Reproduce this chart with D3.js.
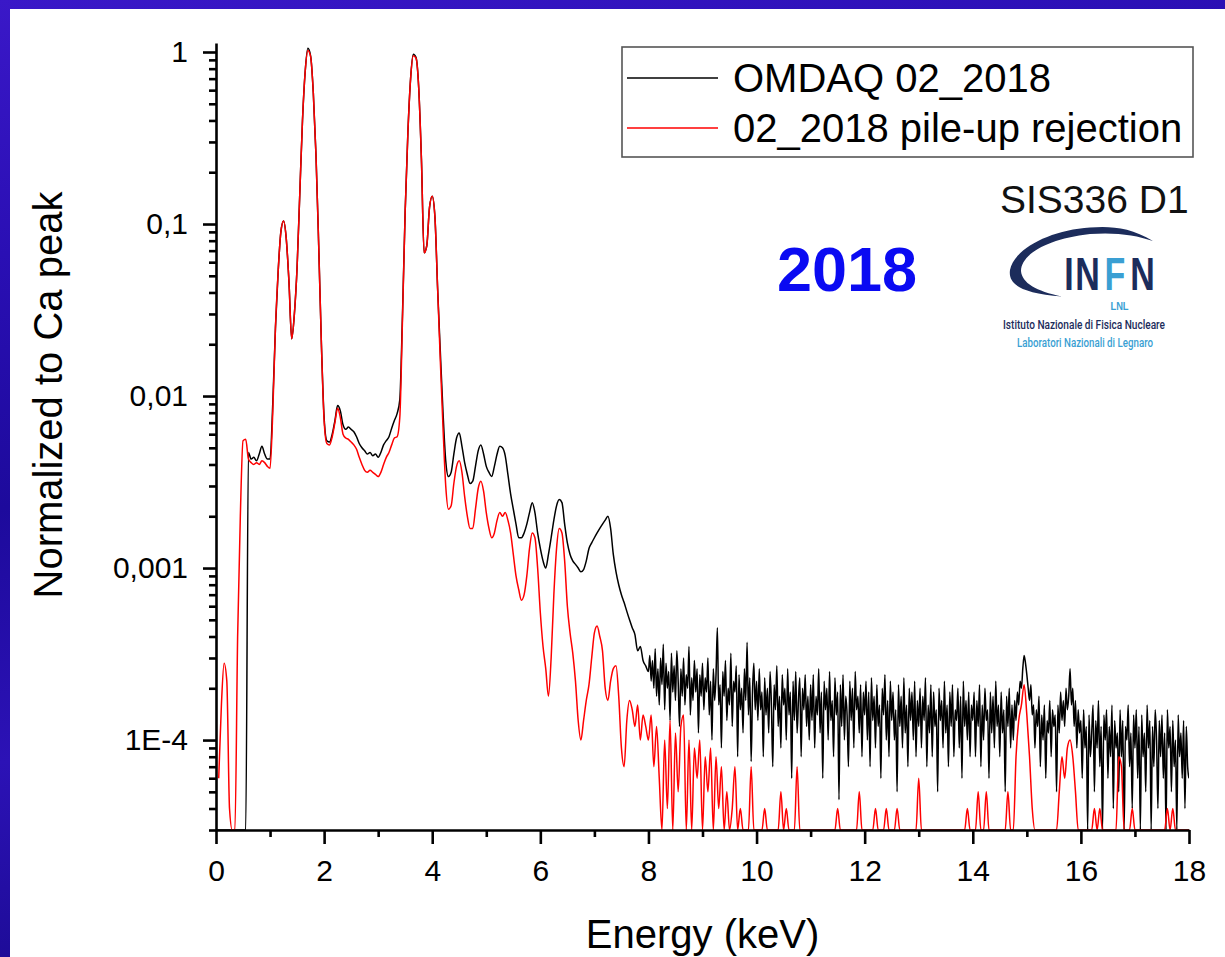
<!DOCTYPE html>
<html>
<head>
<meta charset="utf-8">
<script src="https://cdn.jsdelivr.net/npm/d3@7"></script>
<style>
  html, body { margin: 0; padding: 0; background: #2a10b8; }
  svg { display: block; }
  text { font-family: "Liberation Sans", Arial, Helvetica, sans-serif; }
</style>
</head>
<body>
<svg id="chart" width="1225" height="957"></svg>
<script>
// ---- data -------------------------------------------------------------
// Spectra normalized to the Ca K-alpha peak.
// OMDAQ: 0.05 keV channels up to 7.95 keV, then 0.025 keV channels 8–18 keV.
// Pile-up rejection: 0.05 keV channels over 0–18 keV. One row per keV.

const omdaqLowStep = 0.05;
const omdaqLow = [
  0,0,0,0,0,0,0,0,0,0,0,0,0.0047,0.0043,0.0044,0.0042,0.0046,0.0051,0.0046,0.0043,            // 0 keV
  0.0043,0.009,0.025,0.053,0.09,0.104,0.082,0.046,0.0215,0.03,0.056,0.15,0.4,0.77,1.05,0.95,0.58,0.25,0.075,0.02, // 1
  0.0075,0.0055,0.0054,0.006,0.0072,0.0088,0.0082,0.0068,0.0064,0.0066,0.0064,0.0062,0.0058,0.0053,0.005,0.0048,0.0046,0.0047,0.0045,0.0046, // 2
  0.0044,0.0047,0.0052,0.0055,0.0058,0.0065,0.0072,0.0079,0.0095,0.03,0.12,0.34,0.7,0.97,0.93,0.62,0.24,0.068,0.075,0.125, // 3
  0.145,0.11,0.042,0.018,0.008,0.0042,0.0034,0.0036,0.0046,0.0057,0.0061,0.0051,0.0041,0.0035,0.0031,0.0032,0.0039,0.0048,0.0052,0.0046, // 4
  0.0039,0.0036,0.0034,0.0039,0.0046,0.0051,0.005,0.0045,0.0035,0.0027,0.0022,0.0018,0.0015,0.0015,0.0016,0.0018,0.0021,0.0024,0.0021,0.0016, // 5
  0.0013,0.0011,0.001,0.0012,0.0015,0.0019,0.0023,0.0025,0.0024,0.0018,0.0014,0.0012,0.0011,0.00105,0.001,0.00095,0.00098,0.0011,0.0013,0.0014, // 6
  0.0015,0.0016,0.0017,0.0018,0.0019,0.002,0.0017,0.0012,0.00095,0.0008,0.0007,0.00063,0.00056,0.0005,0.00045,0.00041,0.00033,0.00035,0.00029,0.00027  // 7
];

const omdaqTailStart = 8, omdaqTailStep = 0.025;
const omdaqTail = [
  2.5e-4,3.1e-4,2.2e-4,2.9e-4,2.0e-4,3.4e-4,1.8e-4,2.6e-4,1.6e-4,3.0e-4,2.1e-4,3.6e-4,1.5e-4,2.8e-4,2.0e-4,2.5e-4,1.3e-4,3.2e-4,1.9e-4,2.7e-4,
  1.7e-4,3.3e-4,2.2e-4,1.2e-4,2.6e-4,1.8e-4,3.0e-4,1.6e-4,2.4e-4,2.0e-4,3.5e-4,1.4e-4,2.3e-4,1.7e-4,2.9e-4,1.9e-4,2.6e-4,1.1e-4,2.4e-4,1.8e-4, // 8 keV
  2.8e-4,1.5e-4,2.3e-4,1.9e-4,3.0e-4,1.4e-4,2.2e-4,1.0e-4,2.6e-4,1.7e-4,2.4e-4,4.5e-4,1.6e-4,2.1e-4,0.9e-4,2.5e-4,1.8e-4,2.9e-4,1.3e-4,2.0e-4,
  1.6e-4,3.2e-4,1.2e-4,2.2e-4,1.9e-4,2.7e-4,0.8e-4,2.4e-4,1.5e-4,2.0e-4,1.1e-4,2.6e-4,1.7e-4,3.7e-4,1.4e-4,2.3e-4,0.75e-4,1.9e-4,2.8e-4,1.5e-4, // 9
  2.2e-4,1.3e-4,2.6e-4,1.5e-4,1.9e-4,0.8e-4,2.3e-4,1.4e-4,2.0e-4,1.1e-4,2.5e-4,1.6e-4,0.7e-4,2.1e-4,1.5e-4,2.7e-4,1.2e-4,1.8e-4,0.9e-4,2.4e-4,
  1.6e-4,2.0e-4,1.0e-4,2.6e-4,1.4e-4,1.9e-4,0.6e-4,2.2e-4,1.3e-4,2.5e-4,1.1e-4,1.7e-4,2.3e-4,0.8e-4,2.0e-4,1.5e-4,2.4e-4,1.2e-4,1.8e-4,1.0e-4, // 10
  2.1e-4,1.3e-4,2.4e-4,0.9e-4,1.8e-4,1.4e-4,2.6e-4,1.1e-4,1.9e-4,0.6e-4,2.2e-4,1.5e-4,2.0e-4,1.0e-4,2.5e-4,1.3e-4,1.7e-4,0.8e-4,2.3e-4,1.4e-4,
  1.9e-4,0.45e-4,2.1e-4,1.2e-4,2.4e-4,1.0e-4,1.8e-4,1.4e-4,0.7e-4,2.2e-4,1.3e-4,2.0e-4,0.9e-4,2.5e-4,1.5e-4,1.8e-4,1.1e-4,2.1e-4,0.8e-4,1.9e-4, // 11
  1.4e-4,2.2e-4,1.0e-4,1.9e-4,0.7e-4,2.3e-4,1.3e-4,1.8e-4,0.9e-4,2.1e-4,1.2e-4,1.6e-4,0.6e-4,2.0e-4,1.4e-4,2.4e-4,1.0e-4,1.7e-4,0.8e-4,2.2e-4,
  1.3e-4,1.9e-4,1.0e-4,1.5e-4,0.5e-4,2.1e-4,1.2e-4,1.8e-4,0.9e-4,2.3e-4,1.1e-4,1.6e-4,0.7e-4,2.0e-4,1.3e-4,1.9e-4,1.0e-4,2.2e-4,0.8e-4,1.7e-4, // 12
  1.2e-4,2.0e-4,0.9e-4,1.8e-4,1.3e-4,2.3e-4,0.7e-4,1.6e-4,1.1e-4,2.1e-4,0.8e-4,1.9e-4,1.2e-4,1.5e-4,0.5e-4,2.0e-4,1.3e-4,1.7e-4,0.9e-4,2.2e-4,
  1.1e-4,1.6e-4,0.7e-4,1.9e-4,1.2e-4,2.1e-4,0.8e-4,1.5e-4,1.3e-4,2.0e-4,0.9e-4,1.8e-4,0.6e-4,2.2e-4,1.2e-4,1.7e-4,1.0e-4,1.9e-4,0.8e-4,1.6e-4, // 13
  1.3e-4,1.9e-4,0.8e-4,1.7e-4,1.2e-4,2.1e-4,0.7e-4,1.6e-4,1.0e-4,2.0e-4,1.3e-4,1.5e-4,0.6e-4,1.9e-4,1.1e-4,1.8e-4,0.9e-4,2.2e-4,1.2e-4,1.6e-4,
  0.8e-4,1.9e-4,1.1e-4,1.5e-4,0.5e-4,1.8e-4,1.2e-4,2.0e-4,0.9e-4,1.6e-4,1.0e-4,1.7e-4,1.3e-4,1.9e-4,1.6e-4,2.2e-4,2.0e-4,2.6e-4,3.1e-4,2.8e-4, // 14
  2.4e-4,2.0e-4,1.7e-4,2.1e-4,1.4e-4,1.6e-4,0.9e-4,1.5e-4,1.2e-4,1.8e-4,0.7e-4,1.4e-4,1.0e-4,1.6e-4,0.6e-4,1.3e-4,1.1e-4,1.7e-4,0.8e-4,1.5e-4,
  1.2e-4,1.4e-4,0.5e-4,1.6e-4,1.1e-4,1.9e-4,1.3e-4,1.7e-4,1.2e-4,2.0e-4,1.5e-4,1.8e-4,2.6e-4,1.6e-4,2.0e-4,1.2e-4,1.7e-4,0.9e-4,1.5e-4,1.1e-4, // 15
  1.3e-4,0.6e-4,1.5e-4,0.9e-4,1.2e-4,0.3e-4,1.4e-4,0.8e-4,1.1e-4,1.6e-4,0.5e-4,1.3e-4,0.9e-4,1.7e-4,0.7e-4,1.2e-4,0.2e-4,1.4e-4,1.0e-4,1.5e-4,
  0.6e-4,1.2e-4,0.8e-4,1.6e-4,0.4e-4,1.3e-4,0.9e-4,1.1e-4,0.5e-4,1.5e-4,0.8e-4,1.3e-4,0.25e-4,1.2e-4,1.0e-4,1.6e-4,0.7e-4,1.1e-4,0.4e-4,1.4e-4, // 16
  0.9e-4,1.5e-4,0.6e-4,1.2e-4,0.3e-4,1.4e-4,0.8e-4,1.1e-4,0.5e-4,1.6e-4,0.9e-4,1.3e-4,0.2e-4,1.2e-4,0.7e-4,1.5e-4,1.0e-4,0.4e-4,1.3e-4,0.8e-4,
  1.4e-4,0.6e-4,1.1e-4,0.25e-4,1.5e-4,0.9e-4,1.2e-4,0.5e-4,1.3e-4,0.7e-4,1.0e-4,0.3e-4,1.4e-4,0.8e-4,1.1e-4,0.6e-4,1.3e-4,0.4e-4,1.2e-4,0.7e-4, // 17
  0.6e-4                                                                                        // 18
];

const pileUpStep = 0.05;
const pileUpRejection = [
  null,0.00006,0.00016,0.00028,0.00022,0.00004,0,0.00003,0.0004,0.002,0.0055,0.0056,0.0043,0.0041,0.004,0.0041,0.004,0.0042,0.0041,0.0039, // 0 keV
  0.0038,0.008,0.025,0.053,0.09,0.104,0.082,0.046,0.0215,0.03,0.056,0.15,0.4,0.77,1.02,0.94,0.58,0.25,0.075,0.02, // 1
  0.0072,0.0053,0.0052,0.0058,0.007,0.0085,0.0075,0.006,0.0057,0.0056,0.0054,0.0052,0.0049,0.0044,0.004,0.0037,0.0036,0.0037,0.0036,0.0035, // 2
  0.0034,0.0036,0.004,0.0044,0.0047,0.0052,0.0057,0.0058,0.0075,0.028,0.12,0.34,0.7,0.95,0.92,0.62,0.24,0.068,0.075,0.125, // 3
  0.145,0.11,0.042,0.016,0.0065,0.003,0.0022,0.0023,0.0031,0.0039,0.0042,0.0036,0.0026,0.002,0.0017,0.0017,0.0022,0.0029,0.0032,0.0028, // 4
  0.0021,0.0017,0.0015,0.0016,0.0019,0.0021,0.002,0.0021,0.0019,0.0016,0.0012,0.0009,0.00075,0.00065,0.0007,0.0009,0.0013,0.0016,0.0015,0.001, // 5
  0.00055,0.00035,0.00026,0.00018,0.0003,0.0007,0.0013,0.0017,0.0016,0.0011,0.0006,0.00042,0.00032,0.00022,0.00013,0.0001,0.00013,0.00017,0.00021,0.0003, // 6
  0.00042,0.00046,0.0004,0.00033,0.0002,0.00017,0.00022,0.00026,0.00027,0.00018,0.00009,0.00007,0.00013,0.00017,0.00015,0.00012,0.00016,0.0001,0.00014,0.00012, // 7
  0.0001,0.00014,0.00007,0.00012,0.00006,0,0.0001,0.00004,0.00013,0,0.00011,0.00005,0.00012,0.00014,0.00003,0.0001,0,0.00009,0.00006,0.0001, // 8
  0,0.00008,0.00005,0.00009,0,0.00008,0.00004,0.00007,0,0.00005,0,0.00004,0.00007,0,0.00004,0,0,0,0.00007,0, // 9
  0,0,0,0.00004,0,0,0,0,0,0.00005,0,0.00004,0,0,0,0.00007,0,0,0,0, // 10
  0,0,0,0,0,0,0,0,0,0,0.00004,0,0,0,0,0,0,0,0.00005,0, // 11
  0,0,0,0,0.00004,0,0,0,0.00004,0,0,0,0.00004,0,0,0,0,0,0,0, // 12
  0.00006,0,0,0,0,0,0,0,0,0,0,0,0,0,0,0,0,0,0.00004,0, // 13
  0,0,0.00005,0,0,0.00005,0,0,0,0,0,0,0,0.00005,0,0,0.00008,0.00013,0.00016,0.00021, // 14
  0.00014,0.00008,0.00004,0,0,0,0,0,0,0,0,0,0.00005,0.00008,0.00006,0.00009,0.0001,0.00008,0.00005,0, // 15
  0,0,0,0,0,0.00004,0,0.00004,0,0,0,0,0,0,0.00008,0.00007,0,0,0,0.00004, // 16
  0,0,0,0,0,0,0,0,0,0,0,0,0.00004,0,0.00004,0,0,0,0,0, // 17
  0                                                                                            // 18
];

const seriesNames  = ["OMDAQ 02_2018", "02_2018 pile-up rejection"];
const seriesColors = ["#000000", "#ff0000"];

const xMajorTicks = [0, 2, 4, 6, 8, 10, 12, 14, 16, 18];
const xMinorTicks = [1, 3, 5, 7, 9, 11, 13, 15, 17];
const yMajorTicks = [1e-4, 1e-3, 1e-2, 0.1, 1];
const yTickLabels = ["1E-4", "0,001", "0,01", "0,1", "1"];
const yMinorTicks = [3e-5, 4e-5, 5e-5, 6e-5, 7e-5, 8e-5, 9e-5,
                     2e-4, 3e-4, 4e-4, 5e-4, 6e-4, 7e-4, 8e-4, 9e-4,
                     2e-3, 3e-3, 4e-3, 5e-3, 6e-3, 7e-3, 8e-3, 9e-3,
                     0.02, 0.03, 0.04, 0.05, 0.06, 0.07, 0.08, 0.09,
                     0.2, 0.3, 0.4, 0.5, 0.6, 0.7, 0.8, 0.9];

// ---- layout -----------------------------------------------------------
const svg = d3.select("#chart");
const W = 1225, H = 957;
const plot = { left: 216, right: 1189, top: 43, bottom: 830 };

const x = d3.scaleLinear().domain([0, 18]).range([plot.left, plot.right]);
const y = d3.scaleLog().domain([3e-5, 1.128]).range([plot.bottom, plot.top]).clamp(true);

// slide background and white panel
const defs = svg.append("defs");
const bg = defs.append("linearGradient").attr("id", "slideBg")
  .attr("x1", 0).attr("y1", 0).attr("x2", 0.25).attr("y2", 1);
[["0", "#3a18c8"], ["0.25", "#2a0fb4"], ["0.5", "#1d0a9c"], ["0.75", "#2c12b6"], ["1", "#1a0a90"]]
  .forEach(([o, c]) => bg.append("stop").attr("offset", o).attr("stop-color", c));
svg.append("rect").attr("width", W).attr("height", H).attr("fill", "url(#slideBg)");
svg.append("rect").attr("x", 10).attr("y", 9).attr("width", W - 10).attr("height", H - 9).attr("fill", "#ffffff");

defs.append("clipPath").attr("id", "plotClip").append("rect")
  .attr("x", plot.left).attr("y", plot.top - 10)
  .attr("width", plot.right - plot.left).attr("height", plot.bottom - plot.top + 10);

// ---- spectra ----------------------------------------------------------
const line = d3.line()
  .defined(d => d.v != null)
  .curve(d3.curveMonotoneX)
  .x(d => x(d.e))
  .y(d => y(d.v));

const channels = (arr, start, step) => arr.map((v, i) => ({ e: +(start + i * step).toFixed(3), v }));

const omdaqPoints = channels(omdaqLow, 0, omdaqLowStep)
  .concat(channels(omdaqTail, omdaqTailStart, omdaqTailStep));
const pileUpPoints = channels(pileUpRejection, 0, pileUpStep);

const series = svg.append("g").attr("clip-path", "url(#plotClip)");
[omdaqPoints, pileUpPoints].forEach((pts, k) => {
  series.append("path")
    .datum(pts)
    .attr("fill", "none")
    .attr("stroke", seriesColors[k])
    .attr("stroke-width", 1.5)
    .attr("stroke-linejoin", "round")
    .attr("d", line);
});

// ---- axes -------------------------------------------------------------
function styleAxis(g) {
  g.selectAll("path.domain").attr("stroke", "#000").attr("stroke-width", 2.6);
  g.selectAll(".tick line").attr("stroke", "#000").attr("stroke-width", 2.6);
  g.selectAll(".tick text").attr("fill", "#000")
    .style("font-family", "'Liberation Sans', Arial, sans-serif").style("font-size", "30px");
}

svg.append("g").attr("transform", `translate(0,${plot.bottom})`)
  .call(d3.axisBottom(x).tickValues(xMinorTicks).tickSize(7).tickSizeOuter(0).tickFormat(""))
  .call(g => g.select(".domain").remove())
  .call(styleAxis);
svg.append("g").attr("transform", `translate(${plot.left},0)`)
  .call(d3.axisLeft(y).tickValues(yMinorTicks).tickSize(7).tickSizeOuter(0).tickFormat(""))
  .call(g => g.select(".domain").remove())
  .call(styleAxis);

svg.append("g").attr("transform", `translate(0,${plot.bottom})`)
  .call(d3.axisBottom(x).tickValues(xMajorTicks).tickSize(14).tickSizeOuter(0).tickPadding(16)
    .tickFormat(d3.format("d")))
  .call(styleAxis);
svg.append("g").attr("transform", `translate(${plot.left},0)`)
  .call(d3.axisLeft(y).tickValues(yMajorTicks).tickSize(13).tickSizeOuter(0).tickPadding(15)
    .tickFormat((d, i) => yTickLabels[i]))
  .call(styleAxis);

// axis titles
svg.append("text").attr("x", (plot.left + plot.right) / 2).attr("y", 948)
  .attr("text-anchor", "middle").attr("font-size", 40).attr("fill", "#000")
  .text("Energy (keV)");
svg.append("text").attr("transform", "translate(62,395) rotate(-90)")
  .attr("text-anchor", "middle").attr("font-size", 40).attr("fill", "#000")
  .text("Normalized to Ca peak");

// ---- legend -----------------------------------------------------------
const legend = svg.append("g");
legend.append("rect").attr("x", 622).attr("y", 47).attr("width", 571).attr("height", 110)
  .attr("fill", "#fff").attr("stroke", "#555").attr("stroke-width", 1.6);
seriesNames.forEach((name, k) => {
  const cy = 78 + k * 50;
  legend.append("line").attr("x1", 627).attr("x2", 718).attr("y1", cy).attr("y2", cy)
    .attr("stroke", seriesColors[k]).attr("stroke-width", 1.3);
  legend.append("text").attr("x", 733).attr("y", cy + 14)
    .attr("font-size", 40).attr("fill", "#000").text(name);
});

// ---- annotations ------------------------------------------------------
svg.append("text").attr("x", 1000).attr("y", 213).attr("font-size", 39).attr("fill", "#111")
  .text("SIS336 D1");
svg.append("text").attr("x", 777).attr("y", 291).attr("font-size", 63).attr("font-weight", "bold")
  .attr("fill", "#0a0af2").text("2018");

// INFN LNL logo
const navy = "#1c2c5b", sky = "#3a9fd3";
const logo = svg.append("g");
logo.append("path")
  .attr("d", "M1153,241 C1130,227 1110,226 1090,227.5 C1050,230 1014,249 1010,270 " +
             "C1008,284 1020,293 1062,296.5 C1036,291 1022,283 1021,271 " +
             "C1021,255 1046,239 1090,234 C1115,232 1136,235 1153,241 Z")
  .attr("fill", navy);
[["I", 1069, navy], ["N", 1087.5, navy], ["F", 1115, sky], ["N", 1142.5, navy]].forEach(([ch, cx, col]) => {
  logo.append("text").attr("transform", `translate(${cx},290) scale(0.74,1)`)
    .attr("text-anchor", "middle").attr("font-size", 46).attr("font-weight", "bold")
    .attr("fill", col).text(ch);
});
logo.append("text").attr("transform", "translate(1119.5,309.5) scale(0.85,1)")
  .attr("text-anchor", "middle").attr("font-size", 11).attr("font-weight", "bold")
  .attr("fill", sky).text("LNL");
logo.append("text").attr("x", 1003).attr("y", 329)
  .attr("font-size", 12.5).attr("font-weight", 500)
  .style("font-family", "Roboto, 'Noto Sans', sans-serif")
  .attr("textLength", 162).attr("lengthAdjust", "spacingAndGlyphs")
  .attr("fill", navy).text("Istituto Nazionale di Fisica Nucleare");
logo.append("text").attr("x", 1017).attr("y", 347)
  .attr("font-size", 12.5).attr("font-weight", 500)
  .style("font-family", "Roboto, 'Noto Sans', sans-serif")
  .attr("textLength", 136).attr("lengthAdjust", "spacingAndGlyphs")
  .attr("fill", sky).text("Laboratori Nazionali di Legnaro");
</script>
</body>
</html>
